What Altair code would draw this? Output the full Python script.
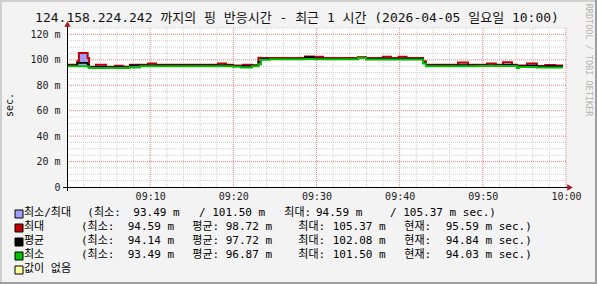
import altair as alt
import pandas as pd

# ---------------- data ----------------
minutes = [0.00, 1.24, 1.44, 2.49, 2.65, 3.49, 4.69, 5.77, 6.73, 7.58, 7.94, 8.78,
           9.74, 10.70, 18.16, 19.12, 19.96, 20.92, 21.16, 22.24, 23.03, 23.33,
           24.41, 28.62, 29.70, 30.79, 34.99, 35.95, 37.99, 38.96, 39.88, 40.84,
           42.83, 43.15, 47.03, 48.22, 49.34, 50.50, 51.58, 52.43, 53.51, 54.11,
           54.35, 55.32, 56.51, 57.50, 58.70, 59.64]
max_ms = [96.2, 98.8, 105.37, 101.5, 94.6, 96.2, 94.6, 95.3, 94.6, 96.2, 96.2, 96.2,
          97.0, 96.2, 97.0, 96.2, 95.6, 95.6, 96.2, 95.8, 101.7, 101.5,
          101.5, 102.6, 102.3, 101.5, 102.0, 101.5, 102.4, 101.5, 102.4, 101.5,
          98.8, 96.2, 97.8, 96.2, 96.2, 97.0, 96.2, 98.0, 96.2, 94.9,
          95.6, 97.0, 95.1, 96.0, 95.59, 95.59]
avg_ms = [95.6, 97.6, 97.6, 96.0, 94.2, 94.5, 94.2, 94.3, 94.2, 95.6, 95.6, 95.6,
          95.7, 95.6, 95.7, 95.6, 95.1, 95.1, 95.1, 95.4, 98.5, 100.8,
          100.8, 102.08, 101.2, 100.8, 101.8, 100.8, 101.0, 100.8, 101.0, 100.8,
          97.8, 95.6, 95.8, 95.6, 95.6, 95.7, 95.6, 96.0, 95.6, 94.4,
          95.0, 95.4, 94.7, 95.0, 94.84, 94.84]
min_ms = [94.9, 94.9, 94.9, 94.6, 93.6, 93.6, 93.6, 93.6, 93.49, 94.4, 93.9, 94.9,
          94.9, 94.9, 94.9, 94.9, 94.6, 93.9, 93.9, 95.0, 96.5, 100.1,
          100.4, 100.6, 100.4, 100.4, 101.5, 100.3, 100.3, 100.3, 100.3, 100.3,
          97.0, 94.9, 94.9, 94.9, 95.1, 95.1, 95.1, 95.1, 95.1, 93.6,
          94.4, 94.4, 93.9, 93.9, 94.03, 94.03]

x_tick_minutes = [10, 20, 30, 40, 50, 60]
y_tick_values = [0, 20, 40, 60, 80, 100, 120]

title_text = "124.158.224.242 까지의 핑 반응시간 - 최근 1 시간 (2026-04-05 일요일 10:00)"
legend_labels = ["최소/최대", "최대", "평균", "최소", "값이 없음"]
legend_colors = ["#A0A0FF", "#C00000", "#000000", "#00C000", "#FFFFA0"]
row1_texts = ["(최소:", "93.49 m", "/ 101.50 m", "최대:", "94.59 m", "/ 105.37 m sec.)"]
stat_names = ["최대", "평균", "최소"]
stat_min = [94.59, 94.14, 93.49]
stat_avg = [98.72, 97.72, 96.87]
stat_max = [105.37, 102.08, 101.50]
stat_cur = [95.59, 94.84, 94.03]

# ---------------- layout constants ----------------
W, H = 499, 159
PL, PT = 67, 28
MONO = "DejaVu Sans Mono, Noto Sans CJK KR"
BASE = pd.Timestamp("2026-04-05 09:00:00")


def ts(m):
    return (BASE + pd.Timedelta(minutes=m)).strftime("%Y-%m-%dT%H:%M:%S")


def dt(m):
    t = BASE + pd.Timedelta(minutes=m)
    return alt.DateTime(year=t.year, month=t.month, date=t.day, hours=t.hour, minutes=t.minute)


df = pd.DataFrame({"t": [ts(m) for m in minutes], "mx": max_ms, "av": avg_ms, "mn": min_ms})

xs = alt.Scale(domain=[dt(0), dt(60)])
ys = alt.Scale(domain=[0, 125], nice=False, zero=True)
xa = alt.Axis(values=[dt(m) for m in x_tick_minutes], format="%H:%M", labelFont=MONO,
              labelFontSize=10, labelColor="#222222", ticks=False, domain=False, grid=False,
              labelPadding=4, title=None, labelFlush=False, labelOverlap=False)
ya = alt.Axis(values=y_tick_values, labelExpr="datum.value == 0 ? '0' : datum.value + ' m'",
              labelFont=MONO, labelFontSize=10, labelColor="#222222", ticks=False,
              domain=False, grid=False, labelPadding=7, title=None)

X = alt.X("t:T", scale=xs, axis=xa)

# grid
minor_v = pd.DataFrame({"t": [ts(m) for m in range(2, 60, 2) if m % 10]})
major_v = pd.DataFrame({"t": [ts(m) for m in range(10, 61, 10)]})
minor_h = pd.DataFrame({"v": [v for v in range(5, 126, 5) if v % 20]})
major_h = pd.DataFrame({"v": list(range(20, 121, 20))})

g_minor_v = alt.Chart(minor_v).mark_rule(color="#CFCFCF", strokeDash=[1, 1], strokeWidth=1).encode(x=X)
g_minor_h = alt.Chart(minor_h).mark_rule(color="#CFCFCF", strokeDash=[1, 1], strokeWidth=1).encode(
    y=alt.Y("v:Q", scale=ys, axis=ya))
g_major_v = alt.Chart(major_v).mark_rule(color="#F08080", strokeDash=[1, 1], strokeWidth=1).encode(x=X)
g_major_h = alt.Chart(major_h).mark_rule(color="#F08080", strokeDash=[1, 1], strokeWidth=1).encode(
    y=alt.Y("v:Q", scale=ys, axis=ya))

band = alt.Chart(df).mark_area(interpolate="step-after", color="#9F9FFF", opacity=1).encode(
    x=X, y=alt.Y("mn:Q", scale=ys, axis=ya), y2="mx:Q")
l_max = alt.Chart(df).mark_line(interpolate="step-after", color="#C00000", strokeWidth=2).encode(
    x=X, y=alt.Y("mx:Q", scale=ys, axis=ya))
l_avg = alt.Chart(df).mark_line(interpolate="step-after", color="#000000", strokeWidth=1.6).encode(
    x=X, y=alt.Y("av:Q", scale=ys, axis=ya))
l_min = alt.Chart(df).mark_line(interpolate="step-after", color="#00C000", strokeWidth=2).encode(
    x=X, y=alt.Y("mn:Q", scale=ys, axis=ya))

plot = alt.layer(g_minor_v, g_minor_h, band, g_major_v, g_major_h, l_max, l_avg, l_min)

# ---------------- decorations (pixel positions relative to plot origin) ----------------
row_y = [213.3, 227.3, 241.3, 255.3, 269.3]
seg_rows = []
for i, lab in enumerate(legend_labels):
    seg_rows.append({"text": lab, "px": 24 - PL, "py": row_y[i] - PT})
row1_x = [87.3, 133.3, 199, 284.3, 316, 390]
for txt, x in zip(row1_texts, row1_x):
    seg_rows.append({"text": txt, "px": x - PL, "py": row_y[0] - PT})
stat_x = [81, 127.7, 192.3, 225.7, 298.3, 332.7, 404.3, 445.7]
for j in range(3):
    texts = ["(최소:", f"{stat_min[j]:.2f} m", "평균:", f"{stat_avg[j]:.2f} m", "최대:",
             f"{stat_max[j]:.2f} m", "현재:", f"{stat_cur[j]:.2f} m sec.)"]
    for txt, x in zip(texts, stat_x):
        seg_rows.append({"text": txt, "px": x - PL, "py": row_y[j + 1] - PT})
seg_df = pd.DataFrame(seg_rows)

legend_text = alt.Chart(seg_df).mark_text(font=MONO, fontSize=11, align="left", baseline="middle",
                                          color="#000000").encode(
    x=alt.X("px:Q", scale=None, axis=None), y=alt.Y("py:Q", scale=None, axis=None), text="text:N")

sq_df = pd.DataFrame({"x1": [15 - PL] * 5, "x2": [23 - PL] * 5,
                      "y1": [y - 3.3 - PT for y in row_y], "y2": [y + 4.7 - PT for y in row_y],
                      "c": legend_colors})
squares = alt.Chart(sq_df).mark_rect(stroke="#000000", strokeWidth=1).encode(
    x=alt.X("x1:Q", scale=None, axis=None), x2="x2:Q",
    y=alt.Y("y1:Q", scale=None, axis=None), y2="y2:Q",
    fill=alt.Fill("c:N", scale=None, legend=None))

title = alt.Chart().mark_text(text=title_text, font=MONO, fontSize=13, align="center",
                              baseline="middle", color="#111111").encode(
    x=alt.value(297 - PL), y=alt.value(18 - PT))
ytitle = alt.Chart().mark_text(text="sec.", font=MONO, fontSize=10, angle=270, align="center",
                               baseline="middle", color="#111111").encode(
    x=alt.value(10 - PL), y=alt.value(105 - PT))
water = alt.Chart().mark_text(text="RRDTOOL / TOBI OETIKER", font="DejaVu Sans Mono", fontSize=8.5,
                              angle=90, align="center", baseline="middle", color="#B4B4B4").encode(
    x=alt.value(589 - PL), y=alt.value(60 - PT))


def rule(x1, y1, x2, y2, color, width):
    return alt.Chart().mark_rule(color=color, strokeWidth=width).encode(
        x=alt.value(x1 - PL), x2=alt.value(x2 - PL), y=alt.value(y1 - PT), y2=alt.value(y2 - PT))


x_axis_line = rule(63, 187.5, 569, 187.5, "#000000", 1)
y_axis_line = rule(67.5, 191, 67.5, 25, "#000000", 1)
b_top = rule(0, 1, 597, 1, "#CFCFCF", 2)
b_left = rule(1, 0, 1, 284, "#CFCFCF", 2)
b_bottom = rule(0, 283, 597, 283, "#9E9E9E", 2)
b_right = rule(596, 0, 596, 284, "#9E9E9E", 2)

arrow_x = alt.Chart().mark_point(shape="triangle-right", filled=True, size=40, color="#A01818",
                                 opacity=1).encode(x=alt.value(570 - PL), y=alt.value(187.5 - PT))
arrow_y = alt.Chart().mark_point(shape="triangle-up", filled=True, size=40, color="#A01818",
                                 opacity=1).encode(x=alt.value(67.5 - PL), y=alt.value(24 - PT))

decor = alt.layer(x_axis_line, y_axis_line, arrow_x, arrow_y, title, ytitle, water,
                  squares, legend_text, b_top, b_left, b_bottom, b_right)

chart = alt.layer(plot, decor).resolve_scale(x="independent", y="independent").properties(
    width=W, height=H,
    autosize=alt.AutoSizeParams(type="none"),
    padding={"left": PL, "top": PT, "right": 597 - PL - W, "bottom": 284 - PT - H},
    background="#F3F3F3",
).configure_view(fill="#FFFFFF", stroke=None)

chart.save("out.html", embed_options={"renderer": "svg", "actions": False})
